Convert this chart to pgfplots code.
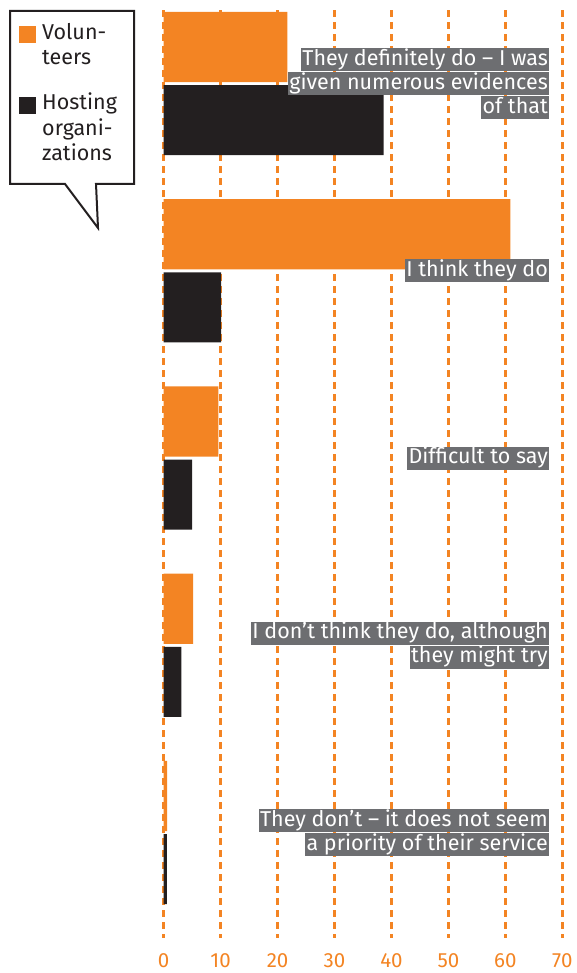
\documentclass[border=0pt]{standalone}
\usepackage{pgfplots}
\pgfplotsset{compat=1.18}
\usepackage{fontspec}
\setmainfont{Fira Sans}
\definecolor{bOrange}{RGB}{243,132,35}
\definecolor{bBlack}{RGB}{35,31,32}
\definecolor{lblGray}{RGB}{109,110,113}
\definecolor{txtDark}{RGB}{35,31,32}
\newcommand{\lb}[1]{{\setlength{\fboxsep}{0pt}\colorbox{lblGray}{\rule[-6pt]{0pt}{23pt}\hspace{1.5pt}\textcolor{white}{#1}\hspace{1pt}}}}
\begin{document}
\begin{tikzpicture}
\useasboundingbox (0,0) rectangle (576pt,-973pt);
\begin{axis}[
  at={(163.7pt,-10pt)}, anchor=north west,
  scale only axis, width=398.6pt, height=928pt,
  xmin=0, xmax=70, ymin=-0.3925, ymax=4.5634, y dir=reverse,
  xbar, bar width=0.374,
  axis lines=none,
  xtick={0,10,...,70}, ytick=\empty,
  /pgf/number format/assume math mode=true,
  clip=false,
]
\pgfplotsinvokeforeach{0,10,...,70}{
  \draw[bOrange, line width=2.5pt, dash pattern=on 7pt off 5pt] (axis cs:#1,-0.3925) -- (axis cs:#1,4.5634);
  \node[text=bOrange, font=\fontsize{20.5}{24}\selectfont, anchor=base, inner sep=0pt] at ([yshift=-29pt]axis cs:#1,4.5634) {#1};
}
\addplot[fill=bOrange, draw=none, bar shift=-0.195] coordinates {(21.7,0) (60.9,1) (9.6,2) (5.15,3) (0.6,4)};
\addplot[fill=bBlack, draw=none, bar shift=0.195] coordinates {(38.6,0) (10.1,1) (5.0,2) (3.1,3) (0.55,4)};
\begin{scope}[every node/.style={anchor=east, align=right, inner sep=0pt, font=\fontsize{21.5}{24}\selectfont}]
\node at (axis cs:67.67,0) {\lb{They definitely do – I was}\\\lb{given numerous evidences}\\\lb{of that}};
\node at (axis cs:67.67,1) {\lb{I think they do}};
\node at (axis cs:67.67,2) {\lb{Difficult to say}};
\node at (axis cs:67.67,3) {\lb{I don’t think they do, although}\\\lb{they might try}};
\node at (axis cs:67.67,4) {\lb{They don’t – it does not seem}\\\lb{a priority of their service}};
\end{scope}
\end{axis}
% legend speech bubble
\draw[line width=2pt, txtDark, fill=white, line join=miter]
  (10pt,-11pt) -- (134pt,-11pt) -- (134pt,-184pt) -- (96pt,-184pt) -- (98pt,-228pt) -- (65pt,-184pt) -- (10pt,-184pt) -- cycle;
\fill[bOrange] (19pt,-26pt) rectangle (36pt,-43pt);
\fill[bBlack] (19pt,-97pt) rectangle (36pt,-114pt);
\begin{scope}[every node/.style={anchor=west, align=left, inner sep=0pt, text=txtDark, font=\fontsize{21.5}{25.5}\selectfont}]
\node[anchor=north west] at (42pt,-23pt) {Volun-\\teers};
\node[anchor=north west] at (42pt,-93pt) {Hosting\\organi-\\zations};
\end{scope}
\end{tikzpicture}
\end{document}
